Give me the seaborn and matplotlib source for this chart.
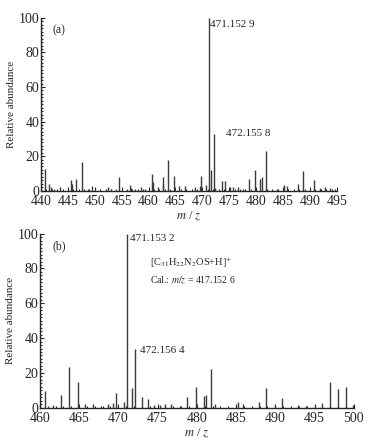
import numpy as np
import matplotlib
matplotlib.use("Agg")
import matplotlib.pyplot as plt
import seaborn as sns
from matplotlib.ticker import MultipleLocator

# panel (a) peaks: m/z and relative abundance
mz_a = [440.8, 441.5, 441.8, 442.5, 443.5, 445.5, 445.7, 446.5, 447.55, 448.8,
        449.5, 452.5, 453.0, 454.55, 456.5, 456.8, 457.5, 458.6, 459.3, 460.6,
        460.9, 461.7, 462.6, 462.7, 463.65, 464.7, 465.6, 466.7, 468.7, 469.5,
        469.7, 470.6, 471.1529, 471.6, 472.1558, 472.4, 473.7, 474.2, 475.2, 475.7,
        476.7, 477.6, 478.7, 479.75, 480.8, 481.1, 481.8, 483.8, 485.1, 485.8,
        487.8, 488.7, 490.8, 491.8, 492.75, 493.8, 494.6]
ab_a = [12.5, 4, 2, 1, 2, 6, 4, 6.5, 16.5, 1,
        2.5, 2, 1, 8, 3, 1.5, 1, 2, 1, 9.5,
        5, 2, 8, 4, 17.5, 8.5, 2.5, 2.5, 2, 2.5,
        8.5, 3.5, 100, 12, 33, 1.5, 5.5, 5.5, 2, 2,
        2, 1, 6.5, 12, 7, 8, 23, 1, 3.5, 2.5,
        4, 11.5, 6, 1.5, 2, 1.5, 1]

# panel (b) peaks
mz_b = [460.7, 461.7, 462.75, 463.7, 464.8, 465.8, 466.8, 467.85, 468.7, 469.3,
        469.75, 470.7, 471.1532, 471.75, 472.1564, 473.05, 473.8, 474.6, 475.3, 475.9,
        476.75, 477.8, 478.8, 479.9, 480.9, 481.2, 481.85, 482.3, 485.2, 485.9,
        487.9, 488.85, 489.9, 490.9, 492.9, 493.9, 495.0, 495.97, 497.0, 497.96,
        499.0, 499.9]
ab_b = [9.5, 1.5, 7.5, 23.5, 15, 2, 2, 1, 2, 2.5,
        8.5, 3.5, 100, 11.5, 34, 6, 5, 1.5, 1.5, 2,
        2, 1, 6, 12, 6.5, 7.5, 22, 2, 3.5, 2,
        3.5, 11.5, 1.5, 5.5, 1.5, 1, 1, 2.5, 14.5, 10.5,
        12, 1.5]

sns.set_style("ticks")
plt.rcParams['font.family'] = ['Liberation Serif', 'DejaVu Serif']
plt.rcParams['mathtext.fontset'] = 'stix'

fig = plt.figure(figsize=(3.76, 4.42), dpi=100)
ax1 = fig.add_axes([0.109, 0.5686, 0.787, 0.391])
ax2 = fig.add_axes([0.106, 0.0776, 0.835, 0.3937])

panels = [(ax1, mz_a, ab_a, (440, 495), '(a)'),
          (ax2, mz_b, ab_b, (460, 500), '(b)')]

for ax, mz, ab, xlim, tag in panels:
    ax.vlines(mz, 0, ab, color='#3c3c3c', lw=1.0)
    ax.set_xlim(*xlim)
    ax.set_ylim(0, 100)
    sns.despine(ax=ax)
    ax.xaxis.set_major_locator(MultipleLocator(5))
    ax.xaxis.set_minor_locator(MultipleLocator(1))
    ax.yaxis.set_major_locator(MultipleLocator(20))
    ax.yaxis.set_minor_locator(MultipleLocator(2))
    ax.tick_params(which='both', direction='in', labelsize=10, width=0.8)
    ax.tick_params(axis='x', pad=3)
    ax.tick_params(axis='y', pad=1)
    ax.tick_params(which='major', length=3)
    ax.tick_params(which='minor', length=1.5)
    for s in ax.spines.values():
        s.set_linewidth(1.0)
    ax.set_ylabel('Relative abundance', fontsize=8, labelpad=2)
    ax.set_xlabel('$m$ / $z$', fontsize=9, labelpad=1)
    ax.text(0.04, 0.93, tag, transform=ax.transAxes, fontsize=8.5, va='center')

ax1.text(471.5, 96, '471.152 9', fontsize=8, va='center')
ax1.text(474.3, 33, '472.155 8', fontsize=8, va='center')

ax2.text(471.5, 97, '471.153 2', fontsize=8, va='center')
ax2.text(474.0, 83, r'[C$_{31}$H$_{22}$N$_{2}$OS+H]$^{+}$', fontsize=7.5, va='center')
ax2.text(474.0, 73, r'Cal.: $m/z$ = 417.152 6', fontsize=7, va='center')
ax2.text(472.8, 33, '472.156 4', fontsize=8, va='center')

fig.savefig('out.png', dpi=100)
